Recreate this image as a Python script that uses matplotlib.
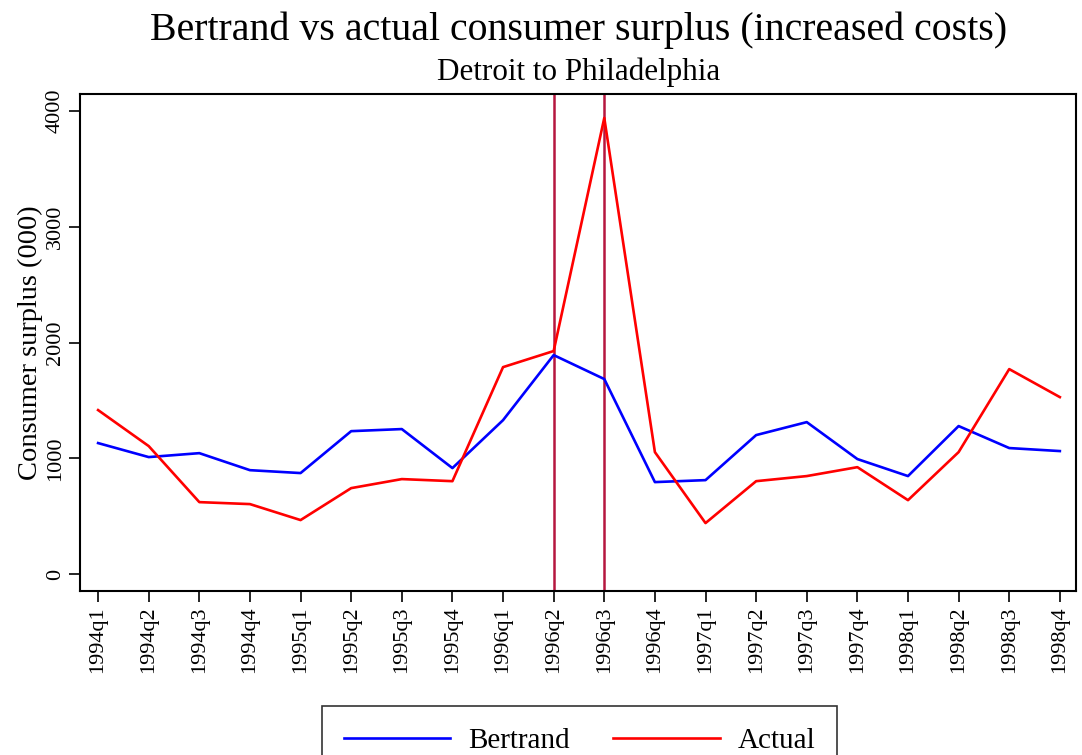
import matplotlib
matplotlib.use("Agg")
import matplotlib.pyplot as plt
import numpy as np

plt.rcParams['font.family'] = ['Liberation Serif', 'DejaVu Serif']

quarters = ['1994q1', '1994q2', '1994q3', '1994q4', '1995q1', '1995q2', '1995q3', '1995q4',
            '1996q1', '1996q2', '1996q3', '1996q4', '1997q1', '1997q2', '1997q3', '1997q4',
            '1998q1', '1998q2', '1998q3', '1998q4']
bertrand = [1132, 1011, 1045, 898, 873, 1235, 1253, 916, 1330, 1892,
            1685, 795, 812, 1201, 1313, 994, 847, 1279, 1089, 1063]
actual = [1417, 1106, 622, 605, 467, 743, 821, 803, 1788, 1927,
          3940, 1054, 441, 803, 847, 924, 639, 1054, 1771, 1529]
marked = ['1996q2', '1996q3']

x = np.arange(len(quarters))

fig = plt.figure(figsize=(10.82, 7.55), dpi=100)
ax = fig.add_axes([0.074, 0.217, 0.9205, 0.6585])

for q in marked:
    ax.axvline(quarters.index(q), color='#B5173F', lw=1.8, zorder=1)
ax.plot(x, bertrand, color='#0000FF', lw=1.9, label='Bertrand', zorder=2)
ax.plot(x, actual, color='#FF0000', lw=1.9, label='Actual', zorder=3)

ax.set_xlim(-0.356, 19.32)
ax.set_ylim(-147, 4147)
ax.set_xticks(x)
ax.set_xticklabels(quarters, rotation=90, fontsize=16)
ax.set_yticks([0, 1000, 2000, 3000, 4000])
ax.set_yticklabels(['0', '1000', '2000', '3000', '4000'], rotation=90, va='center', fontsize=16)
ax.tick_params(length=8, width=1.2, direction='out', pad=3)
for s in ax.spines.values():
    s.set_linewidth(1.5)
ax.set_ylabel('Consumer surplus (000)', fontsize=20.5, labelpad=2)

fig.text(0.5347, 0.960, 'Bertrand vs actual consumer surplus (increased costs)',
         ha='center', va='center', fontsize=28.7)
fig.text(0.5347, 0.904, 'Detroit to Philadelphia', ha='center', va='center', fontsize=22.4)

leg = fig.legend(loc='upper center', bbox_to_anchor=(0.5356, 0.065), borderaxespad=0,
                 ncol=2, fontsize=21, handlelength=3.65, handletextpad=0.6,
                 columnspacing=1.5, frameon=True, fancybox=False, borderpad=0.75)
leg.get_frame().set_edgecolor('black')
leg.get_frame().set_linewidth(1.2)

fig.savefig('out.png', dpi=100)
